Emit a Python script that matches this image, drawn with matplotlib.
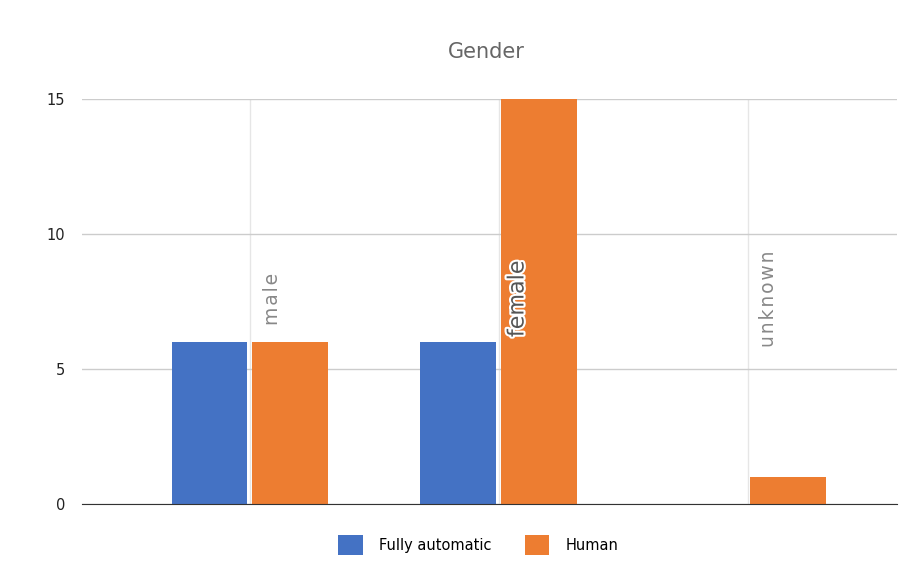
import matplotlib.pyplot as plt
import matplotlib.patheffects as pe
import numpy as np

categories = ["male", "female", "unknown"]
auto_vals = [6, 6, 0]
human_vals = [6, 15, 1]
series_names = ["Fully automatic", "Human"]
yticks = [0, 5, 10, 15]

blue = "#4472C4"
orange = "#ED7D31"

fig = plt.figure(figsize=(9.01, 5.80), dpi=100)
ax = fig.add_axes([82/901, 1-504/580, (897-82)/901, (504-99)/580])

x = np.arange(len(categories))
w = 0.305
ax.bar(x - w/2 - 0.01, auto_vals, w, color=blue, label=series_names[0], zorder=3)
ax.bar(x + w/2 + 0.01, human_vals, w, color=orange, label=series_names[1], zorder=3)

ax.set_xlim(-0.675, 2.6)
ax.set_ylim(0, 15)
ax.set_yticks(yticks)
ax.set_xticks([])
ax.tick_params(axis="y", length=0, pad=12, labelsize=10.5, labelcolor="#222222")
ax.yaxis.grid(True, color="#cccccc", lw=1, zorder=0)
for xi in x:
    ax.axvline(xi, color="#e6e6e6", lw=1, zorder=1)
for s in ["top", "right", "left"]:
    ax.spines[s].set_visible(False)
ax.spines["bottom"].set_color("#333333")
ax.spines["bottom"].set_zorder(4)

# rotated category labels
label_y = [7.6, 7.6, 7.6]
label_col = ["#888888", "#555555", "#888888"]
label_size = [13.5, 16, 13.5]
label_dx = [0.09, 0.075, 0.085]
for i, c in enumerate(categories):
    txt = c if c == "female" else "\u200a".join(c)
    t = ax.text(x[i] + label_dx[i], label_y[i], txt, rotation=90, ha="center", va="center",
                fontsize=label_size[i], color=label_col[i], zorder=5)
    if c == "female":
        t.set_path_effects([pe.withStroke(linewidth=3, foreground="white")])

fig.text(486/901, 1-52/580, "Gender", ha="center", va="center", fontsize=15, color="#666666")

ax.legend(loc="upper center", bbox_to_anchor=(0.486, -0.045), ncol=2, frameon=False,
          fontsize=10.5, handlelength=1.7, handleheight=1.7, columnspacing=2.3, handletextpad=1.1)

fig.savefig("out.png", dpi=100)
